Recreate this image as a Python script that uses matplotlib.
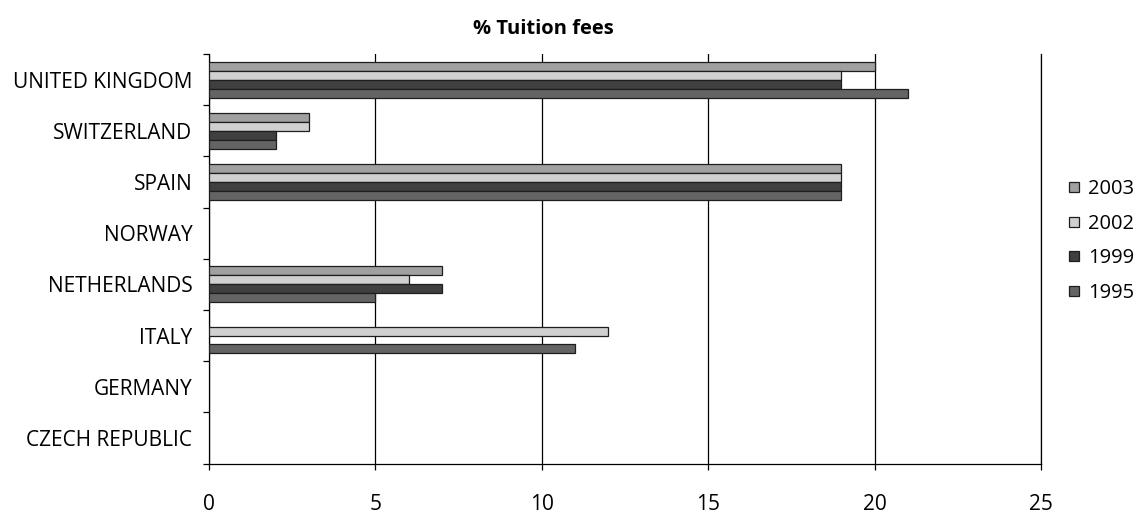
import matplotlib as mpl
mpl.use('agg')
import matplotlib.pyplot as plt
from matplotlib.lines import Line2D
import numpy as np

# Data (categories listed top to bottom as in the chart)
countries = ["UNITED KINGDOM", "SWITZERLAND", "SPAIN", "NORWAY",
             "NETHERLANDS", "ITALY", "GERMANY", "CZECH REPUBLIC"]
years = ["2003", "2002", "1999", "1995"]
fees_2003 = [20, 3, 19, 0, 7, 0, 0, 0]
fees_2002 = [19, 3, 19, 0, 6, 12, 0, 0]
fees_1999 = [19, 2, 19, 0, 7, 0, 0, 0]
fees_1995 = [21, 2, 19, 0, 5, 11, 0, 0]
colors = ["#a0a0a0", "#d0d0d2", "#404040", "#646464"]

plt.rcParams['font.family'] = ['Open Sans', 'DejaVu Sans']

fig = plt.figure(figsize=(11.4, 5.13), dpi=100)
ax = fig.add_axes([209/1140, 1 - 463.5/513, (1041 - 209)/1140, (463.5 - 54)/513])

n = len(countries)
ypos = np.arange(n)[::-1]          # UK on top
h = 0.175
series = [fees_2003, fees_2002, fees_1999, fees_1995]
for i, (vals, col) in enumerate(zip(series, colors)):
    offs = (1.5 - i) * h
    v = np.array(vals, dtype=float)
    mask = v > 0
    ax.barh(ypos[mask] + offs, v[mask], height=h, color=col,
            edgecolor="#1e1e1e", linewidth=0.9, zorder=3)

ax.set_xlim(0, 25)
ax.set_ylim(-0.5, n - 0.5)
ax.set_xticks(range(0, 26, 5))
ax.grid(axis='x', color='black', linewidth=0.9, zorder=0)
ax.spines['top'].set_visible(False)
for s in ['left', 'bottom', 'right']:
    ax.spines[s].set_linewidth(0.9)

# category boundaries as major ticks, labels on minor ticks
ax.set_yticks(np.arange(-0.5, n, 1))
ax.set_yticklabels([])
ax.set_yticks(ypos, minor=True)
ax.set_yticklabels(countries, minor=True)
ax.tick_params(axis='y', which='major', length=4.5, width=0.9, direction='out')
ax.tick_params(axis='y', which='minor', length=0, pad=12, labelsize=15)
ax.tick_params(axis='x', length=4.5, width=0.9, direction='out', pad=17.5, labelsize=15)

fig.text(543/1140, 1 - 29/513, "% Tuition fees", ha='center', va='center',
         fontsize=14.5, fontweight='bold')

handles = [Line2D([], [], marker='s', linestyle='none', markersize=6.5,
                  markerfacecolor=c, markeredgecolor='#1e1e1e', markeredgewidth=0.9)
           for c in colors]
fig.legend(handles, years, loc='center left', bbox_to_anchor=(1068/1140, 1 - 241/513),
           frameon=False, fontsize=14.5, handlelength=0.6, handletextpad=0.4,
           labelspacing=0.72, borderpad=0, borderaxespad=0)

fig.savefig("out.png", dpi=100)
